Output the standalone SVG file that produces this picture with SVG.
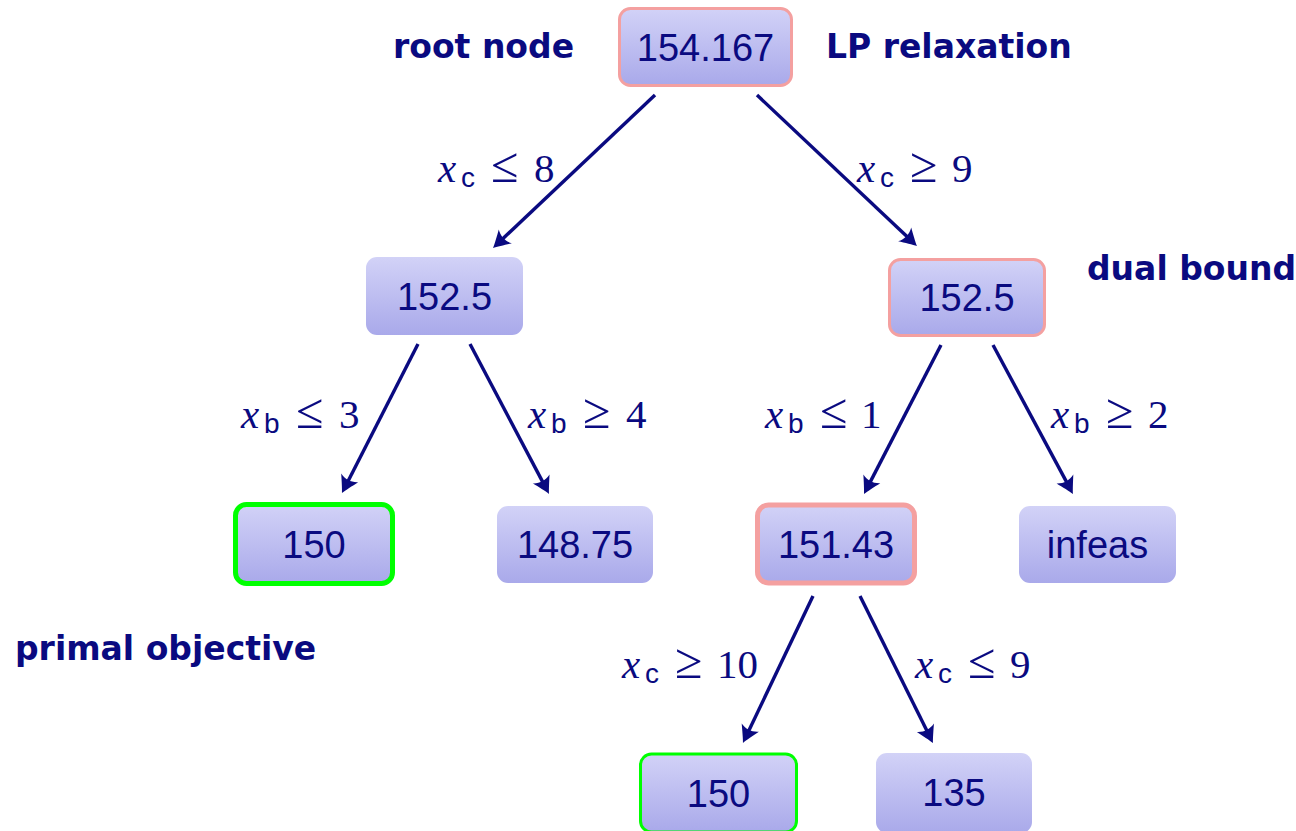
<svg xmlns="http://www.w3.org/2000/svg" width="1296" height="831" viewBox="0 0 1296 831">
<defs>
<linearGradient id="g" x1="0" y1="0" x2="0" y2="1">
<stop offset="0" stop-color="#d2d2f7"/>
<stop offset="1" stop-color="#a9a9ea"/>
</linearGradient>
<marker id="ah" markerUnits="userSpaceOnUse" markerWidth="24" markerHeight="24" viewBox="-20 -12 24 24" refX="-8" refY="0" orient="auto" overflow="visible">
<path d="M0,0 C-4,-1.8 -11,-6 -17,-9.5 C-13.5,-3.5 -13.5,3.5 -17,9.5 C-11,6 -4,1.8 0,0 Z" fill="#0a0a80"/>
</marker>
<style>
.box{fill:url(#g)}
.pink{stroke:#f4a0a0}
.green{stroke:#00ff00}
.num{font-family:"Liberation Sans",Arial,sans-serif;font-size:38px;fill:#0a0a80;text-anchor:middle}
.lbl{font-family:"DejaVu Sans",sans-serif;font-weight:bold;font-size:33px;fill:#0a0a80}
.m{font-family:"Liberation Serif","Times New Roman",serif;font-size:41px;fill:#0a0a80}
.it{font-style:italic}
.sub{font-family:"Liberation Sans",Arial,sans-serif;font-size:28px}
.rel{font-size:50px}
.edge{stroke:#0a0a80;stroke-width:3.4;fill:none;marker-end:url(#ah)}
</style>
</defs>
<rect width="1296" height="831" fill="#ffffff"/>

<g id="connectors">
<line class="edge" x1="655" y1="95" x2="498.8" y2="242.5"/>
<line class="edge" x1="757" y1="95" x2="911.2" y2="240.5"/>
<line class="edge" x1="418" y1="344" x2="345.6" y2="485.9"/>
<line class="edge" x1="470" y1="344" x2="545.3" y2="486.9"/>
<line class="edge" x1="941" y1="345" x2="867.7" y2="486.9"/>
<line class="edge" x1="993" y1="345" x2="1069.2" y2="486.9"/>
<line class="edge" x1="813" y1="596" x2="746.4" y2="735.8"/>
<line class="edge" x1="860" y1="596" x2="929.4" y2="735.8"/>
</g>

<g id="edge-labels">
<text class="m" y="182"><tspan class="it" x="438">x</tspan><tspan class="sub" x="461" dy="5">c</tspan><tspan class="rel" x="491" dy="-5">≤</tspan><tspan x="534">8</tspan></text>
<text class="m" y="182"><tspan class="it" x="857">x</tspan><tspan class="sub" x="880" dy="5">c</tspan><tspan class="rel" x="910" dy="-5">≥</tspan><tspan x="952">9</tspan></text>
<text class="m" y="428"><tspan class="it" x="241">x</tspan><tspan class="sub" x="264" dy="5">b</tspan><tspan class="rel" x="296" dy="-5">≤</tspan><tspan x="339">3</tspan></text>
<text class="m" y="428"><tspan class="it" x="528">x</tspan><tspan class="sub" x="551" dy="5">b</tspan><tspan class="rel" x="583" dy="-5">≥</tspan><tspan x="626">4</tspan></text>
<text class="m" y="428"><tspan class="it" x="765">x</tspan><tspan class="sub" x="788" dy="5">b</tspan><tspan class="rel" x="820" dy="-5">≤</tspan><tspan x="861">1</tspan></text>
<text class="m" y="428"><tspan class="it" x="1051">x</tspan><tspan class="sub" x="1074" dy="5">b</tspan><tspan class="rel" x="1106" dy="-5">≥</tspan><tspan x="1148">2</tspan></text>
<text class="m" y="678"><tspan class="it" x="622">x</tspan><tspan class="sub" x="645" dy="5">c</tspan><tspan class="rel" x="675" dy="-5">≥</tspan><tspan x="717">10</tspan></text>
<text class="m" y="678"><tspan class="it" x="915">x</tspan><tspan class="sub" x="938" dy="5">c</tspan><tspan class="rel" x="968" dy="-5">≤</tspan><tspan x="1010">9</tspan></text>
</g>

<g id="annotations">
<text class="lbl" x="393" y="58">root node</text>
<text class="lbl" x="826" y="58">LP relaxation</text>
<text class="lbl" x="1087" y="280">dual bound</text>
<text class="lbl" x="15" y="660">primal objective</text>
</g>

<g id="n-root">
<rect class="box pink" x="619.5" y="8.5" width="172" height="77" rx="11" stroke-width="3"/>
<text class="num" x="705.5" y="61">154.167</text>
</g>
<g id="n-l">
<rect class="box" x="366" y="257" width="157" height="78" rx="11"/>
<text class="num" x="444.5" y="310">152.5</text>
</g>
<g id="n-r">
<rect class="box pink" x="889.5" y="259.5" width="155" height="76" rx="11" stroke-width="3"/>
<text class="num" x="967" y="311">152.5</text>
</g>
<g id="n-ll">
<rect class="box green" x="235.5" y="504.5" width="157" height="79" rx="11" stroke-width="5"/>
<text class="num" x="314" y="558">150</text>
</g>
<g id="n-lr">
<rect class="box" x="497" y="506" width="156" height="77" rx="11"/>
<text class="num" x="575" y="558">148.75</text>
</g>
<g id="n-rl">
<rect class="box pink" x="757.5" y="505" width="157" height="78" rx="11" stroke-width="5"/>
<text class="num" x="836" y="558">151.43</text>
</g>
<g id="n-rr">
<rect class="box" x="1019" y="506" width="157" height="77" rx="11"/>
<text class="num" x="1097.5" y="558">infeas</text>
</g>
<g id="n-rll">
<rect class="box green" x="640.5" y="754" width="156" height="78" rx="11" stroke-width="3"/>
<text class="num" x="718.5" y="807">150</text>
</g>
<g id="n-rlr">
<rect class="box" x="876" y="753" width="156" height="80" rx="11"/>
<text class="num" x="954" y="806">135</text>
</g>
</svg>
